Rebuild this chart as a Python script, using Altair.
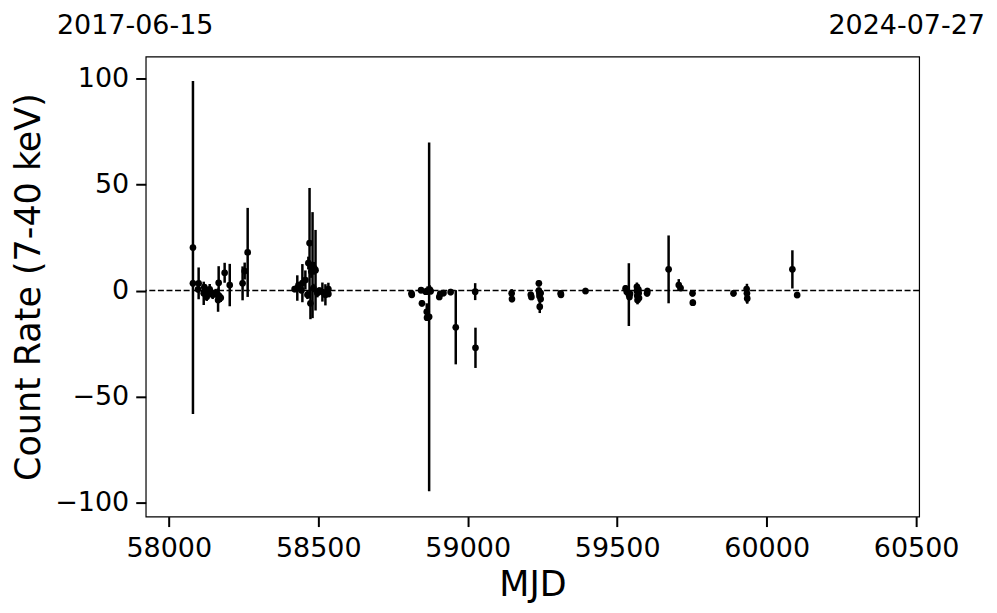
import altair as alt
import pandas as pd

# ---- data ----
mjd = [
    58081, 58081, 58100, 58098, 58117, 58119, 58127, 58130, 58137, 58141, 58147, 58157,
    58164, 58165, 58167, 58170, 58174, 58187, 58204, 58247, 58254, 58264,
    58421, 58430, 58434, 58444, 58447, 58457, 58464, 58467, 58471, 58474, 58477, 58481,
    58484, 58487, 58491, 58497, 58504, 58514, 58524, 58534, 58534,
    58812, 58813, 58847, 58844, 58860, 58863, 58864, 58866, 58871, 58873, 58876,
    58905, 58908, 58919, 58943, 58960, 59025, 59026,
    59147, 59148, 59211, 59213, 59238, 59238, 59240, 59240, 59241, 59244, 59244,
    59311, 59312, 59394,
    59528, 59532, 59539, 59541, 59543, 59566, 59566, 59567, 59568, 59571, 59572, 59573,
    59600, 59601, 59672, 59706, 59712, 59752, 59753, 59889, 59933, 59934, 59935,
    60086, 60102,
]
rate = [
    20.3, 3.4, 3.4, 0.6, -1.3, 1.6, -2.9, 0.2, 0.6, -1.0, -2.0, -1.2,
    -2.1, -4.5, 3.7, -2.9, -3.4, 8.4, 2.6, 3.4, 9.2, 18.0,
    0.7, 1.2, 2.6, 0.2, 3.5, 5.0, -2.0, 13.0, 22.4, -6.0, 9.0, 12.0,
    1.2, 10.5, 9.6, -1.2, 0.0, -0.7, -2.0, 0.7, -1.6,
    -1.3, -2.0, -6.0, 0.2, -0.5, -10.0, -12.8, 0.0, -12.4, 0.5, -0.3,
    -3.0, -1.6, -1.2, -0.7, -17.3, -0.5, -27.0,
    -1.3, -4.0, -2.0, -3.0, 3.4, 0.0, -1.3, -2.6, -7.6, -1.2, -4.0,
    -1.3, -2.0, -0.2,
    1.0, -0.5, -1.9, -3.0, -1.5, 1.8, -0.2, -2.5, -4.5, 0.5, -1.2, -3.5,
    -1.3, -0.2, 10.0, 2.6, 1.2, -1.3, -5.7, -1.3, 0.7, -1.3, -3.7,
    10.0, -2.1,
]
err = [
    78.5, 1.5, 7.5, 1.5, 5.5, 1.5, 2.0, 1.5, 2.5, 1.5, 2.0, 2.0,
    2.0, 5.5, 7.8, 2.0, 2.0, 4.7, 10.0, 8.0, 4.0, 21.0,
    1.5, 6.0, 1.5, 1.5, 9.0, 4.5, 2.0, 3.0, 26.0, 7.5, 3.0, 25.0,
    2.0, 3.0, 19.0, 2.0, 1.5, 4.5, 5.0, 3.0, 1.5,
    1.5, 1.5, 1.5, 1.5, 1.5, 4.0, 1.5, 2.0, 82.3, 2.0, 1.5,
    1.5, 1.5, 1.5, 1.5, 17.5, 4.0, 9.5,
    2.0, 1.5, 1.5, 1.5, 1.5, 1.5, 2.0, 1.5, 3.0, 1.5, 1.5,
    1.5, 1.5, 1.5,
    1.5, 1.5, 14.8, 1.5, 1.5, 2.0, 1.5, 1.5, 2.0, 1.5, 1.5, 1.5,
    1.5, 1.5, 16.0, 2.8, 1.5, 1.5, 1.5, 1.5, 1.5, 4.5, 2.5,
    9.0, 1.5,
]
x_ticks = [58000, 58500, 59000, 59500, 60000, 60500]
y_ticks = [-100, -50, 0, 50, 100]
x_domain = [57923, 60510]
y_domain = [-106.6, 110.4]
date_labels = ["2017-06-15", "2024-07-27"]

df = pd.DataFrame({"mjd": mjd, "rate": rate, "err": err})
df["lo"] = df["rate"] - df["err"]
df["hi"] = df["rate"] + df["err"]

FONT = "DejaVu Sans"
W, H = 775, 461

xs = alt.Scale(domain=x_domain, nice=False, zero=False)
ys = alt.Scale(domain=y_domain, nice=False, zero=False)

x_axis = alt.Axis(
    values=x_ticks, format="d", title="MJD", grid=False, domain=False,
    tickSize=10, tickWidth=2, tickColor="black",
    labelFontSize=27, labelFont=FONT, labelColor="black",
    labelBaseline="alphabetic", labelPadding=30, labelFlush=False,
    titleFontSize=35, titleFont=FONT, titleFontWeight="normal", titleColor="black",
    titleBaseline="alphabetic", titleY=79,
)
y_axis = alt.Axis(
    values=y_ticks, format="d", title="Count Rate (7-40 keV)", grid=False, domain=False,
    tickSize=10, tickWidth=2, tickColor="black",
    labelFontSize=27, labelFont=FONT, labelColor="black", labelPadding=7, labelFlush=False,
    titleFontSize=35, titleFont=FONT, titleFontWeight="normal", titleColor="black",
    titleBaseline="alphabetic", titleX=-106,
)

base = alt.Chart(df)

bars = base.mark_rule(color="black", strokeWidth=2.5).encode(
    x=alt.X("mjd:Q", scale=xs, axis=x_axis),
    y=alt.Y("lo:Q", scale=ys, axis=y_axis),
    y2="hi:Q",
)
pts = base.mark_circle(color="black", size=45, opacity=1).encode(
    x=alt.X("mjd:Q", scale=xs),
    y=alt.Y("rate:Q", scale=ys),
)
zero = alt.Chart(pd.DataFrame({"z": [0]})).mark_rule(
    color="black", strokeWidth=1.6, strokeDash=[6, 2.6]
).encode(y=alt.Y("z:Q", scale=ys))

lab = pd.DataFrame({"t": [date_labels[0]]})
lab2 = pd.DataFrame({"t": [date_labels[1]]})
left_txt = alt.Chart(lab).mark_text(
    font=FONT, fontSize=27, align="left", baseline="alphabetic", color="black"
).encode(text="t:N", x=alt.value(-89), y=alt.value(-23))
right_txt = alt.Chart(lab2).mark_text(
    font=FONT, fontSize=27, align="right", baseline="alphabetic", color="black"
).encode(text="t:N", x=alt.value(841), y=alt.value(-23))

chart = alt.layer(zero, bars, pts, left_txt, right_txt).properties(
    width=W, height=H,
    autosize=alt.AutoSizeParams(type="none"),
    padding={"left": 138, "top": 48, "right": 70, "bottom": 92},
    background="white",
).configure_view(stroke="black", strokeWidth=1.2)

chart.save("out.html", embed_options={"renderer": "svg", "actions": False})
